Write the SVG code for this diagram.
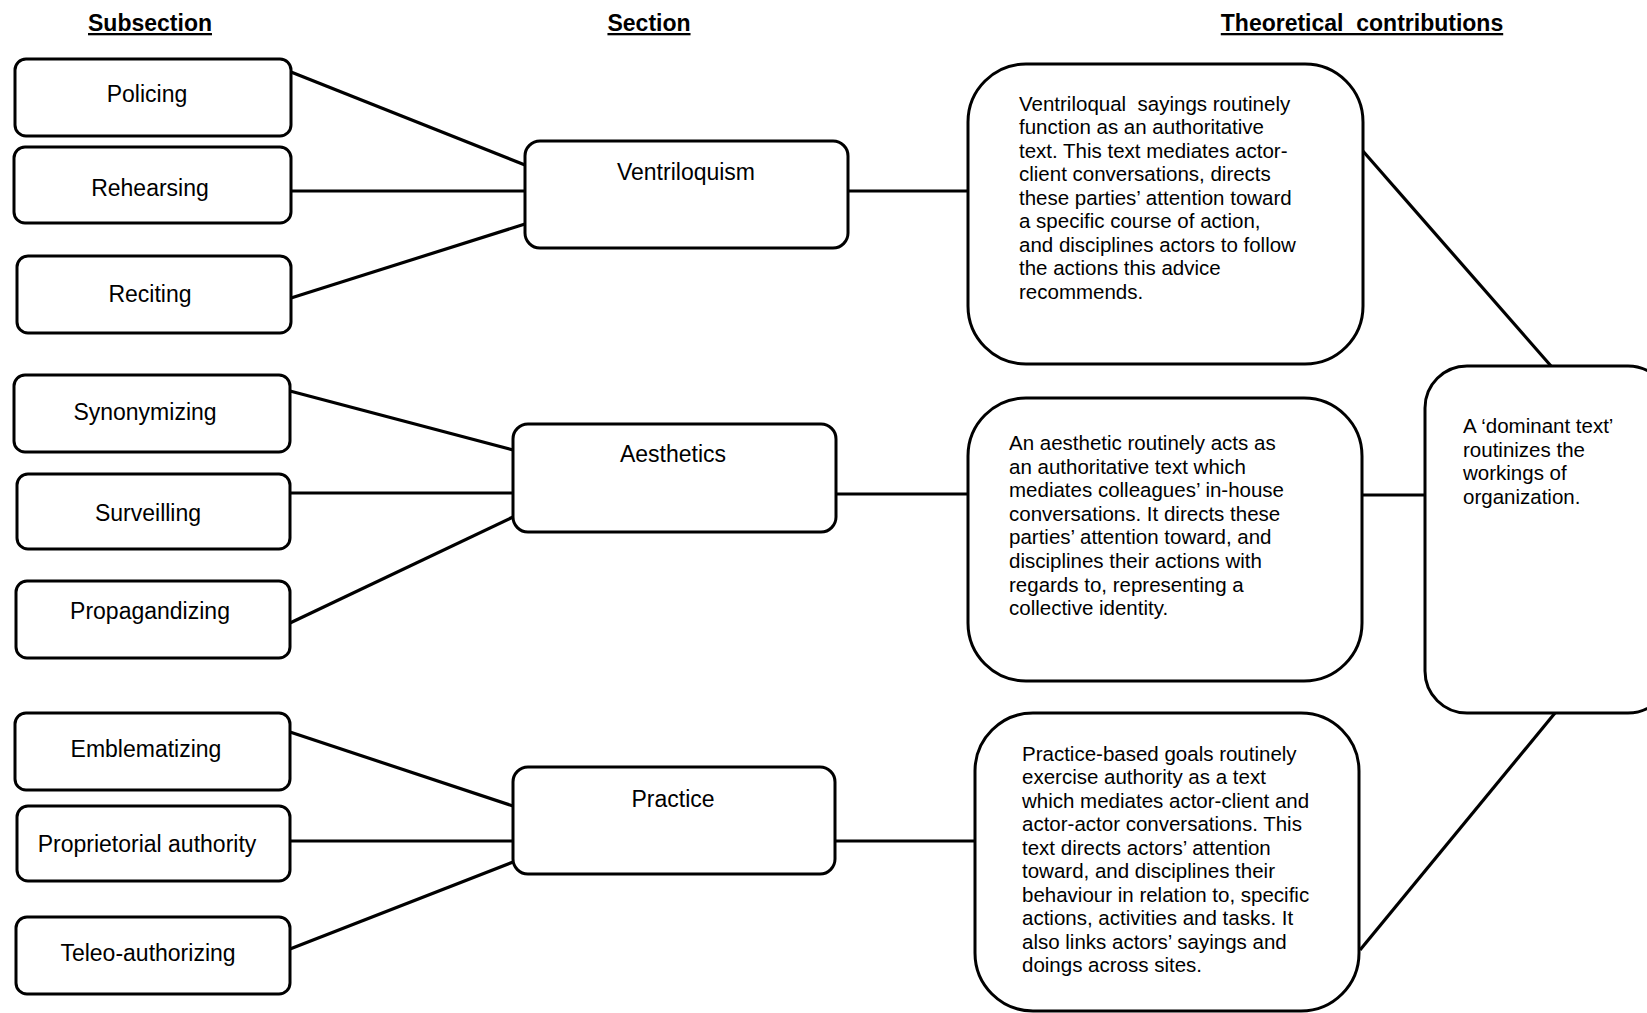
<svg xmlns="http://www.w3.org/2000/svg" width="1647" height="1013" viewBox="0 0 1647 1013">
<style>
.box{fill:#fff;stroke:#000;stroke-width:3}
.con line{stroke:#000;stroke-width:3.2}
text{font-family:"Liberation Sans",Arial,sans-serif;fill:#000}
.hd{font-size:23px;font-weight:bold;text-anchor:middle;text-decoration:underline}
.lb{font-size:23px;text-anchor:middle}
.p{font-size:20.5px}
</style>
<rect width="1647" height="1013" fill="#fff"/>
<g id="headers">
<text class="hd" x="150" y="31">Subsection</text>
<text class="hd" x="649" y="31">Section</text>
<text class="hd" x="1362" y="31" xml:space="preserve">Theoretical  contributions</text>
</g>
<g class="con" id="connectors">
<line x1="291" y1="72" x2="525" y2="165"/>
<line x1="291" y1="191" x2="525" y2="191"/>
<line x1="291" y1="298" x2="525" y2="224"/>
<line x1="848" y1="191" x2="968" y2="191"/>
<line x1="290" y1="391" x2="513" y2="450"/>
<line x1="290" y1="493" x2="513" y2="493"/>
<line x1="290" y1="623" x2="513" y2="517"/>
<line x1="836" y1="494" x2="968" y2="494"/>
<line x1="290" y1="732" x2="513" y2="806"/>
<line x1="290" y1="841" x2="513" y2="841"/>
<line x1="290" y1="949" x2="513" y2="862"/>
<line x1="835" y1="841" x2="975" y2="841"/>
<line x1="1362" y1="495" x2="1425" y2="495"/>
<line x1="1362" y1="150" x2="1551" y2="366"/>
<line x1="1360" y1="950" x2="1555" y2="713"/>
</g>
<g id="n-policing"><rect class="box" x="15" y="59" width="276" height="77" rx="11"/><text class="lb" x="147" y="102">Policing</text></g>
<g id="n-rehearsing"><rect class="box" x="14" y="147" width="277" height="76" rx="11"/><text class="lb" x="150" y="195.5">Rehearsing</text></g>
<g id="n-reciting"><rect class="box" x="17" y="256" width="274" height="77" rx="11"/><text class="lb" x="150" y="301.5">Reciting</text></g>
<g id="n-synonymizing"><rect class="box" x="14" y="375" width="276" height="77" rx="11"/><text class="lb" x="145" y="420">Synonymizing</text></g>
<g id="n-surveilling"><rect class="box" x="17" y="474" width="273" height="75" rx="11"/><text class="lb" x="148" y="521">Surveilling</text></g>
<g id="n-propagandizing"><rect class="box" x="16" y="581" width="274" height="77" rx="11"/><text class="lb" x="150" y="619">Propagandizing</text></g>
<g id="n-emblematizing"><rect class="box" x="15" y="713" width="275" height="77" rx="11"/><text class="lb" x="146" y="756.5">Emblematizing</text></g>
<g id="n-proprietorial"><rect class="box" x="17" y="806" width="273" height="75" rx="11"/><text class="lb" x="147" y="852">Proprietorial authority</text></g>
<g id="n-teleo"><rect class="box" x="16" y="917" width="274" height="77" rx="11"/><text class="lb" x="148" y="961">Teleo-authorizing</text></g>
<g id="n-ventriloquism"><rect class="box" x="525" y="141" width="323" height="107" rx="15"/><text class="lb" x="686" y="180">Ventriloquism</text></g>
<g id="n-aesthetics"><rect class="box" x="513" y="424" width="323" height="108" rx="15"/><text class="lb" x="673" y="462">Aesthetics</text></g>
<g id="n-practice"><rect class="box" x="513" y="767" width="322" height="107" rx="15"/><text class="lb" x="673" y="806.5">Practice</text></g>
<g id="n-ventriloqual-text"><rect class="box" x="968" y="64" width="395" height="300" rx="58"/>
<text class="p" xml:space="preserve"><tspan x="1019" y="110.5">Ventriloqual  sayings routinely</tspan><tspan x="1019" y="134">function as an authoritative</tspan><tspan x="1019" y="157.5">text. This text mediates actor-</tspan><tspan x="1019" y="181">client conversations, directs</tspan><tspan x="1019" y="204.5">these parties’ attention toward</tspan><tspan x="1019" y="228">a specific course of action,</tspan><tspan x="1019" y="251.5">and disciplines actors to follow</tspan><tspan x="1019" y="275">the actions this advice</tspan><tspan x="1019" y="298.5">recommends.</tspan></text></g>
<g id="n-aesthetic-text"><rect class="box" x="968" y="398" width="394" height="283" rx="58"/>
<text class="p"><tspan x="1009" y="450">An aesthetic routinely acts as</tspan><tspan x="1009" y="473.6">an authoritative text which</tspan><tspan x="1009" y="497.2">mediates colleagues’ in-house</tspan><tspan x="1009" y="520.8">conversations. It directs these</tspan><tspan x="1009" y="544.4">parties’ attention toward, and</tspan><tspan x="1009" y="568">disciplines their actions with</tspan><tspan x="1009" y="591.6">regards to, representing a</tspan><tspan x="1009" y="615.2">collective identity.</tspan></text></g>
<g id="n-practice-text"><rect class="box" x="975" y="713" width="384" height="298" rx="58"/>
<text class="p"><tspan x="1022" y="760.5">Practice-based goals routinely</tspan><tspan x="1022" y="784.05">exercise authority as a text</tspan><tspan x="1022" y="807.6">which mediates actor-client and</tspan><tspan x="1022" y="831.15">actor-actor conversations. This</tspan><tspan x="1022" y="854.7">text directs actors’ attention</tspan><tspan x="1022" y="878.25">toward, and disciplines their</tspan><tspan x="1022" y="901.8">behaviour in relation to, specific</tspan><tspan x="1022" y="925.35">actions, activities and tasks. It</tspan><tspan x="1022" y="948.9">also links actors’ sayings and</tspan><tspan x="1022" y="972.45">doings across sites.</tspan></text></g>
<g id="n-dominant-text"><rect class="box" x="1425" y="366" width="245" height="347" rx="42"/>
<text class="p"><tspan x="1463" y="433">A ‘dominant text’</tspan><tspan x="1463" y="456.5">routinizes the</tspan><tspan x="1463" y="480">workings of</tspan><tspan x="1463" y="503.5">organization.</tspan></text></g>
</svg>
